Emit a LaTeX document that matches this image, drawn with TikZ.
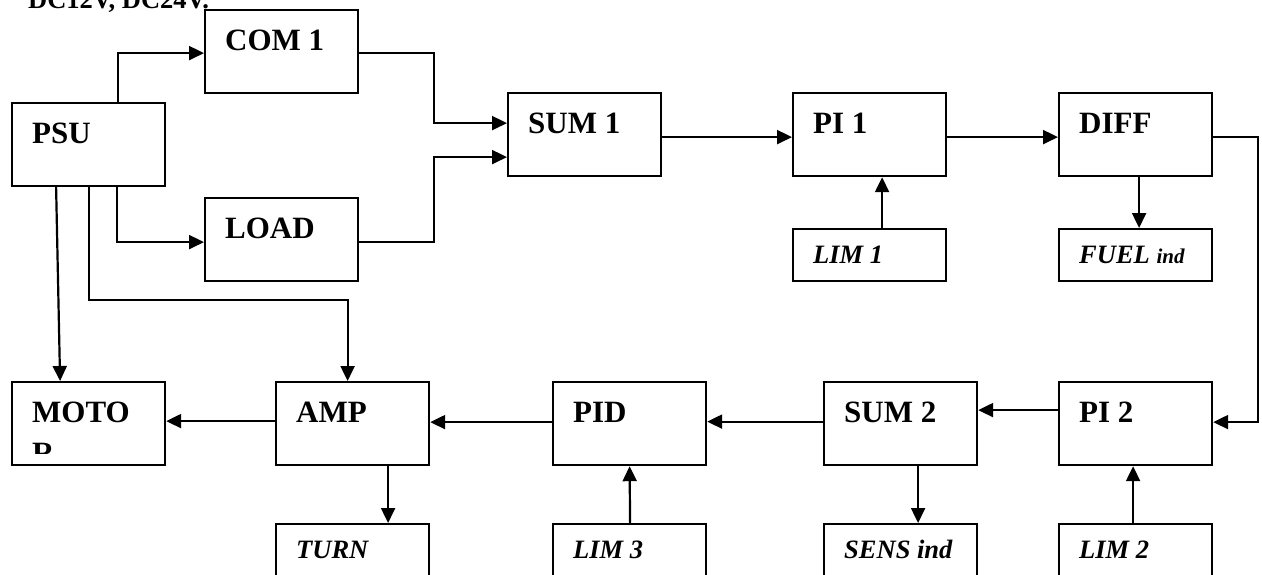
\documentclass[tikz,border=0pt]{standalone}
\usepackage{fontspec}
\setmainfont{Liberation Serif}
\usetikzlibrary{arrows.meta}
\begin{document}
\begin{tikzpicture}[x=1pt,y=-1pt,
  box/.style={draw, line width=2.2pt, anchor=north west, minimum width=153pt, minimum height=83pt, inner sep=0pt},
  sbox/.style={box, minimum height=52pt},
  cbox/.style={box, minimum height=80pt},
  big/.style={label={[anchor=base west, inner sep=0pt, xshift=21pt, yshift=-41pt, font={\fontsize{31}{35}\selectfont\bfseries}]north west:{#1}}},
  small/.style={label={[anchor=base west, inner sep=0pt, xshift=21pt, yshift=-35pt, font={\fontsize{26.5}{30}\selectfont\bfseries\itshape}]north west:{#1}}},
  arr/.style={line width=2.2pt, -{Triangle[length=15pt,width=14pt]}}]
\useasboundingbox (0,0) rectangle (1262,574);
\clip (0,0) rectangle (1262,574);

\node[anchor=base west, inner sep=0pt, font={\fontsize{26.5}{30}\selectfont\bfseries}] (dc) at (28,8) {DC12V, DC24V.};

% top row
\node[box, big=PSU] (psu) at (11,102) {};
\node[box, big=COM 1] (com1) at (204,9) {};
\node[box, big=LOAD] (load) at (204,197) {};
\node[box, big=SUM 1] (sum1) at (507,92) {};
\node[box, big=PI 1] (pi1) at (792,92) {};
\node[box, big=DIFF] (diff) at (1058,92) {};
\node[sbox, small=LIM 1] (lim1) at (792,228) {};
\node[sbox, small={FUEL {\fontsize{21}{24}\selectfont ind}}] (fuel) at (1058,228) {};

% bottom row
\node[box, big=MOTO] (motor) at (11,381) {};
\begin{scope}
  \clip (11,381) rectangle (164,453);
  \node[anchor=base west, inner sep=0pt, font={\fontsize{31}{35}\selectfont\bfseries}] (motorR) at (32,463) {R};
\end{scope}
\node[box, big=AMP] (amp) at (275,381) {};
\node[box, big=PID] (pid) at (552,381) {};
\node[box, big=SUM 2] (sum2) at (823,381) {};
\node[box, big=PI 2] (pi2) at (1058,381) {};
\node[cbox, small=TURN] (turn) at (275,523) {};
\node[cbox, small=LIM 3] (lim3) at (552,523) {};
\node[cbox, small=SENS ind] (sens) at (823,523) {};
\node[cbox, small=LIM 2] (lim2) at (1058,523) {};

% connectors
\draw[arr] ([xshift=29.5pt]psu.north) |- ([yshift=-1.5pt]com1.west);
\draw[arr] ([xshift=28.5pt]psu.south) |- ([yshift=-2.5pt]load.west);
\draw[arr] ([xshift=-32.5pt]psu.south) -- ([xshift=-28.5pt]motor.north);
\draw[arr] (psu.south) -- ++(0,113) -| ([xshift=-5pt]amp.north);
\draw[arr] ([yshift=-1.5pt]com1.east) -- ++(75,0) |- ([yshift=11.5pt]sum1.west);
\draw[arr] ([yshift=-2.5pt]load.east) -- ++(75,0) |- ([yshift=-22.5pt]sum1.west);
\draw[arr] ([yshift=-2.5pt]sum1.east) -- ([yshift=-2.5pt]pi1.west);
\draw[arr] ([yshift=-2.5pt]pi1.east) -- ([yshift=-2.5pt]diff.west);
\draw[arr] ([xshift=3.5pt]diff.south) -- ([xshift=3.5pt]fuel.north);
\draw[arr] ([xshift=12.5pt]lim1.north) -- ([xshift=12.5pt]pi1.south);
\draw[arr] ([yshift=-2.5pt]diff.east) -- ++(45,0) |- ([yshift=1.5pt]pi2.east);
\draw[arr] ([yshift=13.5pt]pi2.west) -- ([yshift=13.5pt]sum2.east);
\draw[arr] ([yshift=2pt]sum2.west) -- ([yshift=2pt]pid.east);
\draw[arr] ([yshift=1.5pt]pid.west) -- ([yshift=1.5pt]amp.east);
\draw[arr] ([yshift=2.5pt]amp.west) -- ([yshift=2.5pt]motor.east);
\draw[arr] ([xshift=-2.5pt]lim2.north) -- ([xshift=-2.5pt]pi2.south);
\draw[arr] ([xshift=17.5pt]sum2.south) -- ([xshift=17.5pt]sens.north);
\draw[arr] ([xshift=0.5pt]lim3.north) -- (pid.south);
\draw[arr] ([xshift=35.5pt]amp.south) -- ([xshift=35.5pt]turn.north);
\end{tikzpicture}
\end{document}
